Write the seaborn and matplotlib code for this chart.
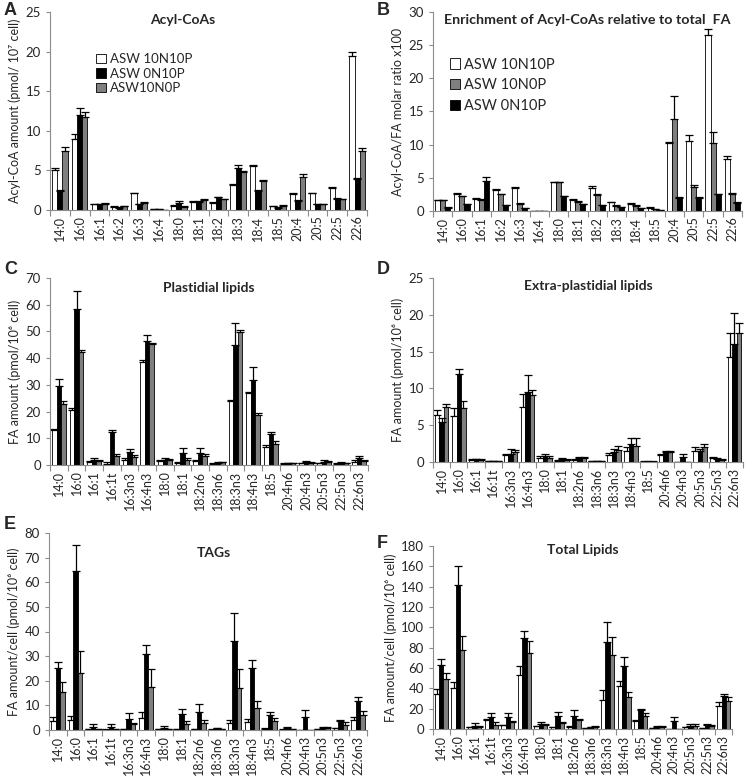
import numpy as np
import pandas as pd
import matplotlib
matplotlib.use("Agg")
import matplotlib.pyplot as plt
import seaborn as sns

sns.set_style("ticks")
plt.rcParams['font.family'] = ['Lato', 'DejaVu Sans']

# categories
acyl_cats = ["14:0", "16:0", "16:1", "16:2", "16:3", "16:4", "18:0", "18:1",
             "18:2", "18:3", "18:4", "18:5", "20:4", "20:5", "22:5", "22:6"]
fa_cats = ["14:0", "16:0", "16:1", "16:1t", "16:3n3", "16:4n3", "18:0", "18:1",
           "18:2n6", "18:3n6", "18:3n3", "18:4n3", "18:5", "20:4n6", "20:4n3",
           "20:5n3", "22:5n3", "22:6n3"]

# A - Acyl-CoAs (white = ASW 10N10P, black = ASW 0N10P, gray = ASW10N0P)
a_w = [5.1, 9.0, 0.7, 0.4, 2.1, 0.1, 0.5, 1.0, 0.9, 3.2, 5.6, 0.5, 2.0, 2.1, 2.8, 19.4]
a_w_err = [0.25, 0.6, 0.1, 0.05, 0.1, 0.0, 0.1, 0.1, 0.1, 0.1, 0.1, 0.05, 0.1, 0.1, 0.1, 0.5]
a_b = [2.4, 12.0, 0.7, 0.3, 0.7, 0.1, 0.9, 1.05, 1.6, 5.3, 2.4, 0.3, 1.1, 0.75, 1.4, 3.9]
a_b_err = [0.1, 0.9, 0.1, 0.05, 0.1, 0.0, 0.2, 0.1, 0.1, 0.4, 0.1, 0.05, 0.1, 0.05, 0.1, 0.1]
a_g = [7.4, 11.7, 0.8, 0.5, 0.9, 0.05, 0.4, 1.3, 1.35, 4.8, 3.7, 0.55, 4.2, 0.75, 1.4, 7.45]
a_g_err = [0.5, 0.7, 0.1, 0.05, 0.1, 0.0, 0.1, 0.1, 0.1, 0.1, 0.05, 0.05, 0.4, 0.05, 0.05, 0.4]

# B - enrichment (white = ASW 10N10P, gray = ASW 10N0P, black = ASW 0N10P)
b_w = [1.6, 2.6, 1.8, 3.1, 3.5, 0.0, 4.3, 1.7, 3.4, 1.3, 1.1, 0.5, 10.2, 10.5, 26.5, 7.9]
b_w_err = [0.1, 0.1, 0.1, 0.2, 0.1, 0.0, 0.1, 0.1, 0.4, 0.1, 0.1, 0.1, 0.2, 1.0, 1.0, 0.4]
b_g = [1.6, 2.2, 1.7, 2.5, 1.1, 0.0, 4.3, 1.4, 2.4, 0.8, 0.8, 0.3, 13.9, 3.6, 10.2, 2.6]
b_g_err = [0.05, 0.1, 0.1, 0.1, 0.1, 0.0, 0.1, 0.1, 0.1, 0.1, 0.1, 0.05, 3.5, 0.3, 1.7, 0.1]
b_b = [0.5, 1.0, 4.5, 0.9, 0.4, 0.0, 2.2, 1.0, 0.9, 0.6, 0.4, 0.1, 2.0, 2.0, 2.5, 1.25]
b_b_err = [0.05, 0.05, 0.6, 0.05, 0.05, 0.0, 0.05, 0.1, 0.05, 0.05, 0.05, 0.02, 0.1, 0.1, 0.1, 0.1]

# C - Plastidial lipids (white, black, gray)
c_w = [13.0, 20.5, 1.0, 0.5, 2.0, 38.6, 1.5, 0.8, 1.5, 0.5, 23.8, 26.9, 6.8, 0.5, 0.6, 0.6, 0.4, 1.2]
c_w_err = [0.5, 0.8, 0.5, 0.8, 0.5, 0.6, 0.3, 0.4, 0.3, 0.2, 0.6, 0.6, 0.5, 0.3, 0.3, 0.3, 0.3, 0.5]
c_b = [29.7, 58.5, 2.0, 12.2, 4.7, 46.5, 2.0, 4.5, 4.4, 0.7, 44.9, 31.9, 11.5, 0.6, 1.2, 1.2, 0.8, 2.5]
c_b_err = [2.4, 6.5, 0.7, 0.8, 1.2, 2.3, 0.5, 1.7, 1.8, 0.3, 8.2, 4.6, 1.0, 0.3, 0.4, 0.5, 0.3, 0.8]
c_g = [23.0, 42.3, 1.5, 3.5, 3.0, 45.2, 1.8, 2.0, 3.4, 1.0, 49.6, 18.6, 8.0, 0.6, 0.8, 1.0, 0.6, 1.5]
c_g_err = [0.8, 0.8, 0.5, 0.8, 0.6, 0.5, 0.4, 0.5, 0.8, 0.3, 0.8, 0.8, 0.9, 0.3, 0.3, 0.4, 0.3, 0.5]

# D - Extra-plastidial lipids
d_w = [6.45, 6.2, 0.3, 0.1, 0.9, 7.5, 0.6, 0.2, 0.3, 0.1, 0.9, 1.5, 0.05, 1.0, 0.0, 1.5, 0.6, 14.2]
d_w_err = [0.6, 1.1, 0.05, 0.02, 0.2, 1.7, 0.2, 0.05, 0.1, 0.02, 0.3, 0.6, 0.02, 0.1, 0.0, 0.5, 0.1, 3.3]
d_b = [5.45, 11.9, 0.4, 0.1, 1.1, 9.5, 0.8, 0.4, 0.5, 0.1, 1.4, 2.5, 0.05, 1.3, 0.7, 1.45, 0.4, 16.0]
d_b_err = [0.55, 0.8, 0.05, 0.02, 0.7, 2.3, 0.3, 0.1, 0.2, 0.02, 0.3, 0.8, 0.02, 0.2, 0.4, 0.3, 0.1, 4.2]
d_g = [7.5, 7.4, 0.3, 0.1, 1.3, 9.1, 0.6, 0.3, 0.5, 0.1, 1.6, 2.2, 0.05, 1.4, 0.0, 2.0, 0.3, 17.5]
d_g_err = [0.4, 0.9, 0.05, 0.02, 0.3, 0.7, 0.2, 0.1, 0.2, 0.02, 0.6, 1.1, 0.02, 0.1, 0.0, 0.45, 0.1, 1.4]

# E - TAGs
e_w = [3.7, 4.1, 0.3, 0.2, 0.3, 5.0, 0.3, 0.5, 0.5, 0.2, 2.7, 3.3, 0.6, 0.2, 0.0, 0.3, 0.8, 4.1]
e_w_err = [1.7, 1.7, 0.1, 0.1, 0.1, 2.5, 0.1, 0.1, 0.1, 0.1, 1.4, 1.2, 0.1, 0.1, 0.0, 0.1, 0.2, 1.2]
e_b = [25.1, 64.4, 1.1, 1.1, 4.5, 30.9, 1.0, 6.4, 7.3, 0.9, 36.2, 25.1, 6.1, 0.9, 5.3, 0.8, 3.8, 11.7]
e_b_err = [2.7, 10.9, 1.2, 1.2, 2.5, 3.7, 0.5, 2.1, 3.3, 0.1, 11.3, 3.4, 1.1, 0.2, 2.8, 0.3, 0.3, 1.9]
e_g = [15.6, 23.1, 0.5, 0.3, 2.3, 17.6, 0.5, 2.6, 2.7, 0.3, 17.2, 8.8, 3.7, 0.4, 0.1, 0.8, 2.0, 6.1]
e_g_err = [3.7, 8.8, 0.1, 0.1, 0.4, 7.2, 0.1, 1.1, 1.4, 0.1, 7.6, 3.1, 1.3, 0.1, 0.05, 0.3, 1.3, 1.6]

# F - Total lipids
f_w = [34.7, 40.2, 1.5, 9.2, 3.6, 53.3, 2.5, 1.8, 2.4, 1.0, 28.8, 41.9, 8.2, 0.8, 0.0, 1.5, 1.0, 22.2]
f_w_err = [4.9, 5.9, 0.5, 0.9, 0.7, 8.9, 0.5, 0.5, 0.5, 0.3, 9.2, 4.9, 1.0, 0.3, 0.0, 0.5, 0.3, 4.6]
f_b = [63.2, 141.7, 3.0, 12.0, 11.8, 89.7, 4.6, 12.4, 12.4, 1.5, 85.1, 61.5, 18.3, 1.8, 7.9, 2.5, 3.5, 32.1]
f_b_err = [5.8, 19.0, 3.0, 4.0, 3.9, 6.8, 1.9, 4.0, 6.6, 0.5, 20.6, 9.2, 1.3, 0.7, 3.9, 2.0, 1.0, 2.3]
f_g = [49.1, 77.9, 2.0, 4.4, 7.2, 74.6, 3.6, 5.7, 8.5, 1.5, 72.3, 31.4, 12.4, 1.5, 0.3, 3.0, 3.0, 27.2]
f_g_err = [5.9, 13.1, 0.5, 2.1, 0.7, 12.4, 0.9, 1.3, 1.6, 1.0, 18.0, 4.6, 3.3, 1.0, 0.1, 1.5, 0.8, 3.9]

WHITE, BLACK, GRAY = "white", "black", "#7f7f7f"
AXCOL = "#8c8c8c"

W, H = 745, 779
fig = plt.figure(figsize=(W / 100, H / 100), dpi=100)


def add_ax(l, r, t, b):
    return fig.add_axes([l / W, 1 - b / H, (r - l) / W, (b - t) / H])


def panel(ax, cats, series, ymax, ystep, ylabel, title, title_x, title_y=0.97,
          title_size=10, legend_pos=None, legend_gap=0.4, legend_size=9.5):
    rows = []
    for name, col, vals, errs in series:
        for c, v in zip(cats, vals):
            rows.append({"fa": c, "value": v, "cond": name})
    df = pd.DataFrame(rows)
    names = [s[0] for s in series]
    pal = {s[0]: s[1] for s in series}
    sns.barplot(data=df, x="fa", y="value", hue="cond", hue_order=names, order=cats,
                palette=pal, saturation=1, width=0.78, edgecolor="black", linewidth=0.6,
                errorbar=None, ax=ax, legend=legend_pos is not None)
    for cont, (name, col, vals, errs) in zip(ax.containers, series):
        xs = [p.get_x() + p.get_width() / 2 for p in cont]
        ax.errorbar(xs, vals, yerr=[np.zeros(len(errs)), errs], fmt="none",
                    ecolor="black", elinewidth=0.9, capsize=2.6, capthick=0.9)
    n = len(cats)
    ax.set_xlim(-0.5, n - 0.5)
    ax.set_ylim(0, ymax)
    ax.set_yticks(np.arange(0, ymax + 0.1, ystep))
    ax.set_xticks(range(n))
    ax.set_xticklabels(cats, rotation=90, fontsize=9)
    ax.set_xticks(np.arange(-0.5, n, 1), minor=True)
    ax.tick_params(axis="x", which="major", length=0, pad=4)
    ax.tick_params(axis="x", which="minor", length=4, color=AXCOL, width=0.8)
    ax.tick_params(axis="y", length=3, color=AXCOL, width=0.8, labelsize=9.5)
    ax.set_xlabel("")
    ax.set_ylabel(ylabel, fontsize=9, labelpad=3)
    for s in ["left", "bottom"]:
        ax.spines[s].set_color(AXCOL)
        ax.spines[s].set_linewidth(0.8)
    sns.despine(ax=ax)
    ax.text(title_x, title_y, title, transform=ax.transAxes, fontsize=title_size,
            fontweight="bold", ha="center", va="top")
    if legend_pos is not None:
        ax.legend(loc="upper left", bbox_to_anchor=legend_pos, frameon=False,
                  fontsize=legend_size, handlelength=0.7, handleheight=0.7,
                  handletextpad=0.3, labelspacing=legend_gap, borderaxespad=0)


axA = add_ax(50, 367, 12, 210)
panel(axA, acyl_cats,
      [("ASW 10N10P", WHITE, a_w, a_w_err), ("ASW 0N10P", BLACK, a_b, a_b_err),
       ("ASW10N0P", GRAY, a_g, a_g_err)],
      25, 5, "Acyl-CoA amount (pmol/ 10\u2077 cell)", "Acyl-CoAs", 0.42,
      title_y=0.99, legend_pos=(0.13, 0.82), legend_gap=0.2)

axB = add_ax(433, 742, 12, 211)
panel(axB, acyl_cats,
      [("ASW 10N10P", WHITE, b_w, b_w_err), ("ASW 10N0P", GRAY, b_g, b_g_err),
       ("ASW 0N10P", BLACK, b_b, b_b_err)],
      30, 5, "Acyl-CoA/FA molar ratio x100",
      "Enrichment of Acyl-CoAs relative to total  FA", 0.5, title_y=0.99,
      title_size=10.3, legend_pos=(0.035, 0.8), legend_gap=0.45, legend_size=10.5)

axC = add_ax(50, 368, 278, 465)
panel(axC, fa_cats,
      [("ASW 10N10P", WHITE, c_w, c_w_err), ("ASW 0N10P", BLACK, c_b, c_b_err),
       ("ASW10N0P", GRAY, c_g, c_g_err)],
      70, 10, "FA amount (pmol/10\u2076 cell)", "Plastidial lipids", 0.5, title_y=0.98)

axD = add_ax(433, 743, 278, 462)
panel(axD, fa_cats,
      [("ASW 10N10P", WHITE, d_w, d_w_err), ("ASW 0N10P", BLACK, d_b, d_b_err),
       ("ASW10N0P", GRAY, d_g, d_g_err)],
      25, 5, "FA amount (pmol/10\u2076 cell)", "Extra-plastidial lipids", 0.5,
      title_y=0.99)

axE = add_ax(49, 367, 533, 730)
panel(axE, fa_cats,
      [("ASW 10N10P", WHITE, e_w, e_w_err), ("ASW 0N10P", BLACK, e_b, e_b_err),
       ("ASW10N0P", GRAY, e_g, e_g_err)],
      80, 10, "FA amount/cell (pmol/10\u2076 cell)", "TAGs", 0.52, title_y=0.93)

axF = add_ax(433, 732, 546, 729)
panel(axF, fa_cats,
      [("ASW 10N10P", WHITE, f_w, f_w_err), ("ASW 0N10P", BLACK, f_b, f_b_err),
       ("ASW10N0P", GRAY, f_g, f_g_err)],
      180, 20, "FA amount/cell (pmol/10\u2076 cell)", "Total Lipids", 0.5,
      title_y=1.01)

for lbl, x, y in [("A", 4, 2), ("B", 377, 2), ("C", 4, 261), ("D", 377, 261),
                  ("E", 4, 516), ("F", 377, 535)]:
    fig.text(x / W, 1 - y / H, lbl, fontsize=13, fontweight="bold", va="top",
             family=["Liberation Sans", "DejaVu Sans"])

fig.savefig("out.png", dpi=100)
